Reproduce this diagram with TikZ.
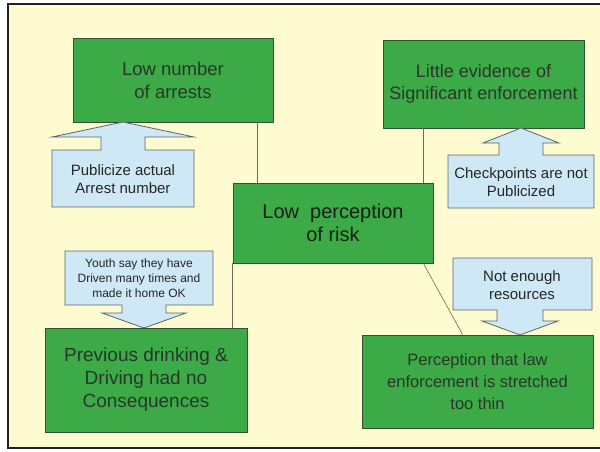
\documentclass[tikz,border=0pt]{standalone}
\usepackage{fontspec}
\setmainfont{Liberation Sans}
\definecolor{paper}{RGB}{255,251,208}
\definecolor{leaf}{RGB}{60,170,70}
\definecolor{leafedge}{RGB}{50,80,55}
\definecolor{sky}{RGB}{206,233,245}
\definecolor{skyedge}{RGB}{90,100,105}
\definecolor{ink}{RGB}{40,55,42}
\definecolor{darkink}{RGB}{22,32,22}
\definecolor{wire}{RGB}{110,105,85}
\definecolor{frameline}{RGB}{34,34,34}

\tikzset{
  gbox/.style={draw=leafedge, line width=0.8pt, fill=leaf, text=ink,
    align=center, inner sep=0pt},
  callout/.style={draw=skyedge, line width=0.8pt, fill=sky, line join=miter},
  ctext/.style={text=black!85, align=center, inner sep=0pt,
    font=\fontsize{15}{18}\selectfont},
  wireline/.style={draw=wire, line width=0.6pt}
}

\begin{document}
\begin{tikzpicture}[x=1pt, y=-1pt]
  \useasboundingbox (0,0) rectangle (600,451);
  \clip (0,0) rectangle (600,451);
  % page and framed panel
  \fill[white] (0,0) rectangle (600,451);
  \fill[paper] (8,4) rectangle (603,448);
  \draw[frameline, line width=2pt] (606,4) -- (8,4) -- (8,448) -- (606,448);

  % green cause boxes
  \node[gbox, minimum width=200pt, minimum height=84pt,
        font=\fontsize{18.5}{23}\selectfont] (arrests) at (173,80)
        {Low number\\of arrests};
  \node[gbox, minimum width=201pt, minimum height=88pt,
        font=\fontsize{18}{22}\selectfont] (evidence) at (483.5,84)
        {Little evidence of\\Significant enforcement};
  \node[gbox, minimum width=200pt, minimum height=80pt, text=darkink,
        font=\fontsize{20}{23}\selectfont] (risk) at (333,223)
        {Low\ \ perception\\of risk};
  \node[gbox, minimum width=202pt, minimum height=104pt,
        font=\fontsize{19}{23}\selectfont] (previous) at (146,380)
        {Previous drinking \&\\Driving had no\\Consequences};
  \node[gbox, minimum width=231pt, minimum height=93pt,
        font=\fontsize{16.5}{22}\selectfont] (stretched) at (477.5,381.5)
        {Perception that law\\enforcement is stretched\\too thin};

  % connectors to the central box
  \coordinate (j1) at ([xshift=25pt]risk.north west);
  \coordinate (j2) at ([xshift=-10pt]risk.north east);
  \coordinate (j3) at ([xshift=-10pt]risk.south east);
  \coordinate (j4) at ([xshift=101pt]stretched.north west);
  \draw[wireline] (j1) -- (j1 |- arrests.south);
  \draw[wireline] (j2) -- (j2 |- evidence.south);
  \draw[wireline] (risk.south west) -- (risk.south west |- previous.north);
  \draw[wireline] (j3) -- (j4);

  % block-arrow callouts
  \path[callout] (52,207) -- (52,150) -- (101,150) -- (101,137) -- (52,137)
    -- (123,122) -- (194,137) -- (145,137) -- (145,150) -- (194,150)
    -- (194,207) -- cycle;
  \node[ctext] (publicize) at (123,179) {Publicize actual\\Arrest number};

  \path[callout] (448,208) -- (448,155) -- (499,155) -- (499,143) -- (483,143)
    -- (521,128) -- (559,143) -- (543,143) -- (543,155) -- (594,155)
    -- (594,208) -- cycle;
  \node[ctext] (checkpoints) at (521,182) {Checkpoints are not\\Publicized};

  \path[callout] (65,251) -- (213,251) -- (213,305) -- (166,305) -- (166,313)
    -- (186,313) -- (144,328) -- (102,313) -- (122,313) -- (122,305)
    -- (65,305) -- cycle;
  \node[ctext, font=\fontsize{12}{15}\selectfont] (youth) at (139,278)
    {Youth say they have\\Driven many times and\\made it home OK};

  \path[callout] (453,258) -- (592,258) -- (592,310) -- (543,310) -- (543,321)
    -- (558,321) -- (520,335) -- (482,321) -- (497,321) -- (497,310)
    -- (453,310) -- cycle;
  \node[ctext] (resources) at (522,285) {Not enough\\resources};
\end{tikzpicture}
\end{document}
